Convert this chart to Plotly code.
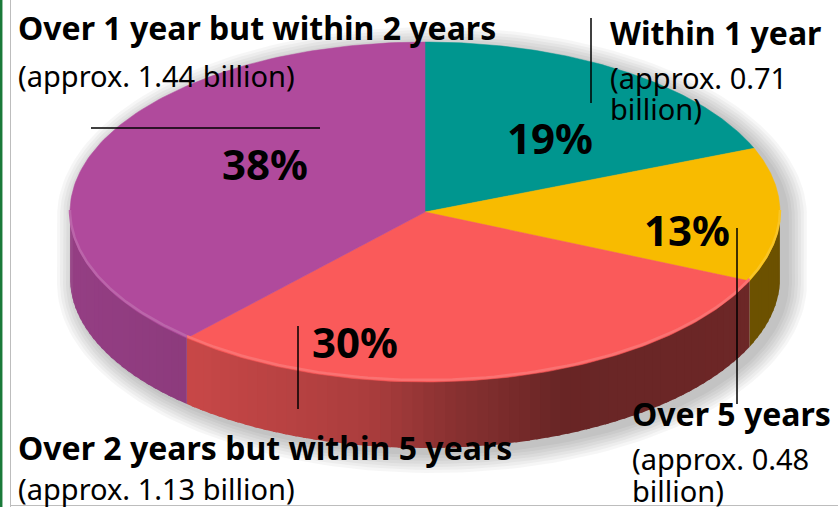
import numpy as np
import plotly.graph_objects as go

# ---------------- data ----------------
categories = ["Within 1 year", "Over 5 years",
              "Over 2 years but within 5 years", "Over 1 year but within 2 years"]
amounts_billion = [0.71, 0.48, 1.13, 1.44]
percent_labels = ["19%", "13%", "30%", "38%"]
amount_labels = ["(approx. 0.71<br>billion)", "(approx. 0.48<br>billion)",
                 "(approx. 1.13 billion)", "(approx. 1.44 billion)"]
top_colors = ["#00968F", "#F8BB00", "#FA5A5A", "#B04A9C"]

# ---------------- geometry (pixel-like axes) ----------------
W, H = 838, 507
cx, cy = 425, 212
a, b = 355, 170
depth = 66

def hex2rgb(h):
    h = h.lstrip("#")
    return [int(h[i:i + 2], 16) for i in (0, 2, 4)]

def shade(hexc, f):
    r, g, bl = hex2rgb(hexc)
    return f"rgb({int(r*f)},{int(g*f)},{int(bl*f)})"

def lighten(hexc, f):
    r, g, bl = hex2rgb(hexc)
    return f"rgb({int(r+(255-r)*f)},{int(g+(255-g)*f)},{int(bl+(255-bl)*f)})"

def ex(t):
    return cx + a * np.sin(t)

def ey(t, dz=0):
    return cy - b * np.cos(t) + dz

total = sum(amounts_billion)
fracs = [v / total for v in amounts_billion]
bounds = np.concatenate([[0], np.cumsum(fracs)]) * 2 * np.pi

fig = go.Figure()

# soft shadow
for k in range(7):
    grow = 2 + k * 3
    t = np.linspace(0, 2 * np.pi, 200)
    xs = cx + 7 + (a + grow) * np.sin(t)
    ys = np.where(np.cos(t) >= 0, cy + 5 - (b + grow) * np.cos(t),
                  cy + 5 + depth - (b + grow) * np.cos(t))
    fig.add_trace(go.Scatter(x=xs, y=ys, mode="lines", fill="toself",
                             fillcolor="rgba(0,0,0,0.035)", line=dict(width=0),
                             hoverinfo="skip", showlegend=False))

# side walls (visible front half: theta in [pi/2, 3pi/2])
def shade_factor(x):
    return float(np.interp(x, [60, 190, 370, 450, 560, 800],
                          [0.85, 0.80, 0.68, 0.55, 0.42, 0.44]))

for i, col in enumerate(top_colors):
    t1, t2 = max(bounds[i], np.pi / 2), min(bounds[i + 1], 3 * np.pi / 2)
    if t2 <= t1:
        continue
    n = max(1, int((t2 - t1) / 0.03))
    edges = np.linspace(t1, t2, n + 1)
    for j in range(n):
        e2 = min(edges[j + 1] + 0.012, t2)
        ts = np.linspace(edges[j], e2, 6)
        xs = np.concatenate([ex(ts), ex(ts[::-1])])
        ys = np.concatenate([ey(ts) - 1, ey(ts[::-1], depth)])
        c = shade(col, shade_factor(ex(ts).mean()))
        fig.add_trace(go.Scatter(x=xs, y=ys, mode="lines", fill="toself",
                                 fillcolor=c, line=dict(width=0),
                                 hoverinfo="skip", showlegend=False))

# top faces
for i, col in enumerate(top_colors):
    ts = np.linspace(bounds[i], bounds[i + 1], 120)
    xs = np.concatenate([[cx], ex(ts), [cx]])
    ys = np.concatenate([[cy], ey(ts), [cy]])
    fig.add_trace(go.Scatter(x=xs, y=ys, mode="lines", fill="toself",
                             fillcolor=col, line=dict(width=0.5, color=col),
                             name=categories[i], hoverinfo="name", showlegend=False))

# rim highlight
for i, col in enumerate(top_colors):
    t1, t2 = max(bounds[i], np.pi / 2), min(bounds[i + 1], 3 * np.pi / 2)
    if t2 <= t1:
        continue
    ts = np.linspace(t1, t2, 80)
    fig.add_trace(go.Scatter(x=ex(ts), y=ey(ts) - 2, mode="lines",
                             line=dict(width=2.5, color=lighten(col, 0.15)),
                             hoverinfo="skip", showlegend=False))

FONT = "Noto Sans, Open Sans, sans-serif"
ann = []
def txt(x, y, s, size, bold=False, xanchor="left"):
    ann.append(dict(x=x, y=y, xref="x", yref="y", text=f"<b>{s}</b>" if bold else s,
                    showarrow=False, xanchor=xanchor, yanchor="middle", align="left",
                    font=dict(family=FONT, size=size, color="#000000")))

def multiline(x, y, s, size, spacing):
    for k, line in enumerate(s.split("<br>")):
        txt(x, y + k * spacing, line, size)

BOLD, REG, PCT = 32, 29, 42
# category names / amounts
txt(16, 27, categories[3], BOLD, bold=True)
multiline(16, 75, amount_labels[3], REG, 31)
txt(608, 32, categories[0], BOLD, bold=True)
multiline(608, 77, amount_labels[0], REG, 31)
txt(630, 413, categories[1], BOLD, bold=True)
multiline(630, 458, amount_labels[1], REG, 32)
txt(16, 447, categories[2], BOLD, bold=True)
multiline(16, 488, amount_labels[2], REG, 31)
# percents
txt(265, 163, percent_labels[3], PCT, bold=True, xanchor="center")
txt(550, 137, percent_labels[0], PCT, bold=True, xanchor="center")
txt(687, 229, percent_labels[1], PCT, bold=True, xanchor="center")
txt(355, 341, percent_labels[2], PCT, bold=True, xanchor="center")

shapes = [
    dict(type="line", xref="x", yref="y", x0=91, x1=320, y0=128, y1=128,
         line=dict(color="black", width=1.5)),
    dict(type="line", xref="x", yref="y", x0=591, x1=591, y0=18, y1=103,
         line=dict(color="black", width=1.5)),
    dict(type="line", xref="x", yref="y", x0=737, x1=737, y0=228, y1=404,
         line=dict(color="black", width=1.5)),
    dict(type="line", xref="x", yref="y", x0=298, x1=298, y0=326, y1=409,
         line=dict(color="black", width=1.5)),
    # borders
    dict(type="line", xref="x", yref="y", x0=1.2, x1=1.2, y0=0, y1=H,
         line=dict(color="#1A7A3A", width=2.5)),
    dict(type="line", xref="x", yref="y", x0=10.5, x1=10.5, y0=0, y1=H,
         line=dict(color="#BDBDBD", width=1)),
    dict(type="line", xref="x", yref="y", x0=10, x1=W, y0=505.5, y1=505.5,
         line=dict(color="#BDBDBD", width=1)),
]

fig.update_layout(
    width=W, height=H, margin=dict(l=0, r=0, t=0, b=0),
    paper_bgcolor="white", plot_bgcolor="white",
    xaxis=dict(range=[0, W], visible=False, domain=[0, 1], fixedrange=True),
    yaxis=dict(range=[H, 0], visible=False, domain=[0, 1], fixedrange=True),
    annotations=ann, shapes=shapes, showlegend=False,
)

fig.write_html("out.html", config={"displayModeBar": False},
               post_script="document.body.style.margin='0';document.body.style.overflow='hidden';")
